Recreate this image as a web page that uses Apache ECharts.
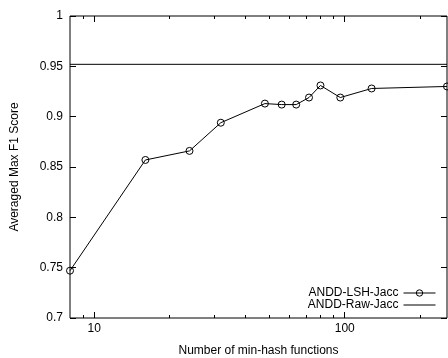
<!DOCTYPE html>
<html>
<head>
<meta charset="utf-8">
<script src="https://cdn.jsdelivr.net/npm/echarts@6/dist/echarts.min.js"></script>
<style>
  html, body { margin: 0; padding: 0; background: #fff; }
  #chart { width: 448px; height: 358px; }
</style>
</head>
<body>
<div id="chart"></div>
<script>
// number of min-hash functions
const hashCounts = [8, 16, 24, 32, 48, 56, 64, 72, 80, 96, 128, 256];
// averaged max F1 score, ANDD-LSH-Jacc
const lshScores = [0.747, 0.857, 0.866, 0.894, 0.913, 0.912, 0.912, 0.919, 0.931, 0.919, 0.928, 0.930];
// ANDD-Raw-Jacc is flat over the whole range
const rawScore = 0.952;
const xMajorTicks = [10, 100];
const xMinorTicks = [9, 20, 30, 40, 50, 60, 70, 80, 90, 200];

const font = "Liberation Sans";
const chart = echarts.init(document.getElementById("chart"));

const logAxis = (position, ticks, len, extra) => Object.assign({
  type: "log",
  logBase: 10,
  min: 8,
  max: 256,
  position: position,
  axisLine: { show: false },
  splitLine: { show: false },
  axisTick: { show: true, inside: true, length: len, customValues: ticks, lineStyle: { color: "#000" } },
  axisLabel: { show: false },
}, extra || {});

const valueAxis = (position, extra) => Object.assign({
  type: "value",
  min: 0.7,
  max: 1,
  interval: 0.05,
  position: position,
  axisLine: { show: false },
  splitLine: { show: false },
  axisTick: { show: true, inside: true, length: 6, lineStyle: { color: "#000" } },
  axisLabel: { show: false },
}, extra || {});

chart.setOption({
  animation: false,
  textStyle: { fontFamily: font },
  grid: {
    left: 70, right: 1, top: 16, bottom: 40,
    outerBoundsMode: "none",
    containLabel: false,
    show: true, borderColor: "#000", borderWidth: 1,
  },
  legend: {
    orient: "vertical",
    right: 7,
    top: 282,
    align: "right",
    itemWidth: 32,
    itemHeight: 8,
    itemGap: 0,
    textStyle: { fontFamily: font, fontSize: 12, color: "#000" },
    data: [
      {
        name: "ANDD-LSH-Jacc",
        itemStyle: { color: "transparent", borderColor: "#000", borderWidth: 1 },
        lineStyle: { color: "#000", width: 1 },
      },
      { name: "ANDD-Raw-Jacc", icon: "path://M0,0L32,0L32,1L0,1Z", itemStyle: { color: "#000" } },
    ],
  },
  xAxis: [
    logAxis("bottom", xMajorTicks, 6, {
      name: "Number of min-hash functions",
      nameLocation: "middle",
      nameGap: 27,
      nameTextStyle: { fontFamily: font, fontSize: 12, color: "#000" },
      axisLabel: { show: true, customValues: xMajorTicks, margin: 5, fontFamily: font, fontSize: 12, color: "#000" },
    }),
    logAxis("bottom", xMinorTicks, 3),
    logAxis("top", xMajorTicks, 6),
    logAxis("top", xMinorTicks, 3),
  ],
  yAxis: [
    valueAxis("left", {
      name: "Averaged Max F1 Score",
      nameLocation: "middle",
      nameGap: 49,
      nameTextStyle: { fontFamily: font, fontSize: 12, color: "#000" },
      axisLabel: { show: true, margin: 7, fontFamily: font, fontSize: 12, color: "#000" },
    }),
    valueAxis("right"),
  ],
  series: [
    {
      name: "ANDD-LSH-Jacc",
      type: "line",
      xAxisIndex: 0,
      yAxisIndex: 0,
      data: hashCounts.map((n, i) => [n, lshScores[i]]),
      symbol: "circle",
      symbolSize: 7,
      lineStyle: { color: "#000", width: 1 },
      itemStyle: { color: "transparent", borderColor: "#000", borderWidth: 1 },
    },
    {
      name: "ANDD-Raw-Jacc",
      type: "line",
      xAxisIndex: 0,
      yAxisIndex: 0,
      data: [[hashCounts[0], rawScore], [hashCounts[hashCounts.length - 1], rawScore]],
      symbol: "none",
      lineStyle: { color: "#000", width: 1 },
      itemStyle: { color: "#000" },
    },
  ],
});
</script>
</body>
</html>
